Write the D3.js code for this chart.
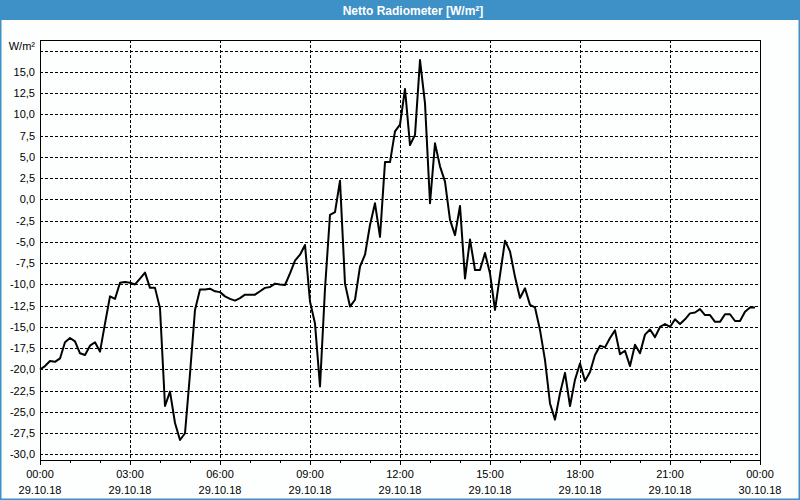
<!DOCTYPE html>
<html><head><meta charset="utf-8">
<script src="https://cdn.jsdelivr.net/npm/d3@7"></script>
<style>
html,body{margin:0;padding:0;background:#fcfffe;}
svg{display:block;}
</style></head>
<body>
<svg id="c" width="800" height="500"></svg>
<script>
// ---- data ----
const title = "Netto Radiometer [W/m²]";
const unitLabel = "W/m²";
const startTime = "2018-10-29T00:00:00";
const stepMinutes = 10;
const values = [
 -20.0,-19.6,-19.0,-19.1,-18.7,-16.8,-16.3,-16.7,-18.1,-18.3,
 -17.2,-16.8,-17.9,-14.6,-11.4,-11.7,-9.8,-9.7,-9.8,-10.0,
 -9.3,-8.6,-10.4,-10.4,-12.8,-24.3,-22.6,-26.3,-28.3,-27.5,
 -20.5,-13.0,-10.6,-10.6,-10.5,-10.8,-10.9,-11.4,-11.7,-11.9,
 -11.6,-11.2,-11.2,-11.2,-10.8,-10.4,-10.3,-9.9,-10.0,-10.06,
 -8.7,-7.2,-6.5,-5.35,-12.0,-14.6,-22.0,-10.5,-1.8,-1.5,
 2.2,-9.9,-12.6,-11.8,-7.9,-6.5,-3.0,-0.45,-4.4,4.4,
 4.4,8.0,8.8,13.0,6.4,7.6,16.4,11.3,-0.45,6.6,
 3.9,2.1,-2.4,-4.2,-0.76,-9.3,-4.7,-8.3,-8.3,-6.3,
 -8.7,-13.0,-8.9,-4.85,-6.1,-9.1,-11.6,-10.45,-12.4,-12.7,
 -15.35,-18.9,-24.0,-25.9,-22.8,-20.4,-24.3,-21.2,-19.3,-21.35,
 -20.3,-18.3,-17.2,-17.4,-16.3,-15.4,-18.2,-17.8,-19.6,-17.1,
 -18.1,-15.9,-15.3,-16.2,-15.0,-14.65,-15.0,-14.1,-14.65,-14.1,
 -13.4,-13.3,-12.9,-13.6,-13.6,-14.4,-14.4,-13.5,-13.5,-14.3,
 -14.3,-13.2,-12.7,-12.7
];
const yTicks = [-30,-27.5,-25,-22.5,-20,-17.5,-15,-12.5,-10,-7.5,-5,-2.5,0,2.5,5,7.5,10,12.5,15];
const yGrid = [-30,-27.5,-25,-22.5,-20,-17.5,-15,-12.5,-10,-7.5,-5,-2.5,0,2.5,5,7.5,10,12.5,15,17.5];
const xTickHours = [0,3,6,9,12,15,18,21,24];

// ---- layout ----
const svg = d3.select("#c");
const L = 40, R = 760, T = 40, B = 460;
const t0 = new Date(startTime);
const t1 = d3.timeDay.offset(t0, 1);
const x = d3.scaleTime().domain([t0, t1]).range([L, R]);
const y = d3.scaleLinear().domain([-30.65, 18.76]).range([B, T]);
const data = values.map((v, i) => ({t: d3.timeMinute.offset(t0, i * stepMinutes), v}));
const font = "'Liberation Sans', Arial, sans-serif";

svg.append("rect").attr("width", 800).attr("height", 500).attr("fill", "#fcfffe");

// title bar
svg.append("rect").attr("x", 0).attr("y", 0).attr("width", 800).attr("height", 20).attr("fill", "#3d91c6");
svg.append("text").attr("x", 413).attr("y", 15).attr("text-anchor", "middle")
  .attr("font-family", font).attr("font-weight", "bold").attr("font-size", 12)
  .attr("fill", "#ffffff").text(title);
// window border
svg.append("rect").attr("x", 0.75).attr("y", 0.75).attr("width", 798.5).attr("height", 498.5)
  .attr("fill", "none").attr("stroke", "#3d91c6").attr("stroke-width", 1.5);

// grid
const g = svg.append("g").attr("shape-rendering", "crispEdges");
g.selectAll("line.hg").data(yGrid).join("line")
  .attr("x1", L).attr("x2", R).attr("y1", d => Math.round(y(d)) + 0.5).attr("y2", d => Math.round(y(d)) + 0.5)
  .attr("stroke", "#000").attr("stroke-width", 1).attr("stroke-dasharray", "3,2");
const vHours = xTickHours.filter(h => h > 0 && h < 24);
g.selectAll("line.vg").data(vHours).join("line")
  .attr("x1", h => Math.round(x(d3.timeHour.offset(t0, h))) + 0.5)
  .attr("x2", h => Math.round(x(d3.timeHour.offset(t0, h))) + 0.5)
  .attr("y1", T).attr("y2", B)
  .attr("stroke", "#000").attr("stroke-width", 1).attr("stroke-dasharray", "3,2");

// x ticks (hourly minor, 3-hourly major)
const hours = d3.range(0, 25);
g.selectAll("line.mt").data(hours).join("line")
  .attr("x1", h => Math.round(x(d3.timeHour.offset(t0, h))) + 0.5)
  .attr("x2", h => Math.round(x(d3.timeHour.offset(t0, h))) + 0.5)
  .attr("y1", B).attr("y2", h => B + (h % 3 === 0 ? 5 : 3))
  .attr("stroke", "#000");

// frame
g.append("line").attr("x1", L + 0.5).attr("x2", L + 0.5).attr("y1", T).attr("y2", B + 1).attr("stroke", "#000").attr("stroke-width", 1);
g.append("line").attr("x1", R + 0.5).attr("x2", R + 0.5).attr("y1", T).attr("y2", B + 1).attr("stroke", "#000").attr("stroke-width", 1);
g.append("line").attr("x1", L).attr("x2", R + 1).attr("y1", T + 0.5).attr("y2", T + 0.5).attr("stroke", "#000").attr("stroke-width", 1);
g.append("line").attr("x1", L).attr("x2", R + 1).attr("y1", B + 0.5).attr("y2", B + 0.5).attr("stroke", "#000").attr("stroke-width", 1);

// y labels
const fmt = d => d.toFixed(1).replace(".", ",");
svg.selectAll("text.yl").data(yTicks).join("text")
  .attr("x", 35).attr("y", d => y(d) + 4).attr("text-anchor", "end")
  .attr("font-family", font).attr("font-size", 11).attr("fill", "#000").text(fmt);
svg.append("text").attr("x", 35).attr("y", 50).attr("text-anchor", "end")
  .attr("font-family", font).attr("font-size", 11).attr("fill", "#000").text(unitLabel);

// x labels
const tf = d3.timeFormat("%H:%M"), df = d3.timeFormat("%d.%m.%y");
const xl = svg.selectAll("g.xl").data(xTickHours).join("g")
  .attr("transform", h => `translate(${x(d3.timeHour.offset(t0, h))},0)`);
xl.append("text").attr("y", 478).attr("text-anchor", "middle")
  .attr("font-family", font).attr("font-size", 11).attr("fill", "#000")
  .text(h => tf(d3.timeHour.offset(t0, h)));
xl.append("text").attr("y", 494).attr("text-anchor", "middle")
  .attr("font-family", font).attr("font-size", 11).attr("fill", "#000")
  .text(h => df(d3.timeHour.offset(t0, h)));

// line
const line = d3.line().x(d => x(d.t)).y(d => y(d.v));
svg.append("path").datum(data).attr("d", line)
  .attr("fill", "none").attr("stroke", "#000").attr("stroke-width", 2).attr("stroke-linejoin", "round");
</script>
</body></html>
